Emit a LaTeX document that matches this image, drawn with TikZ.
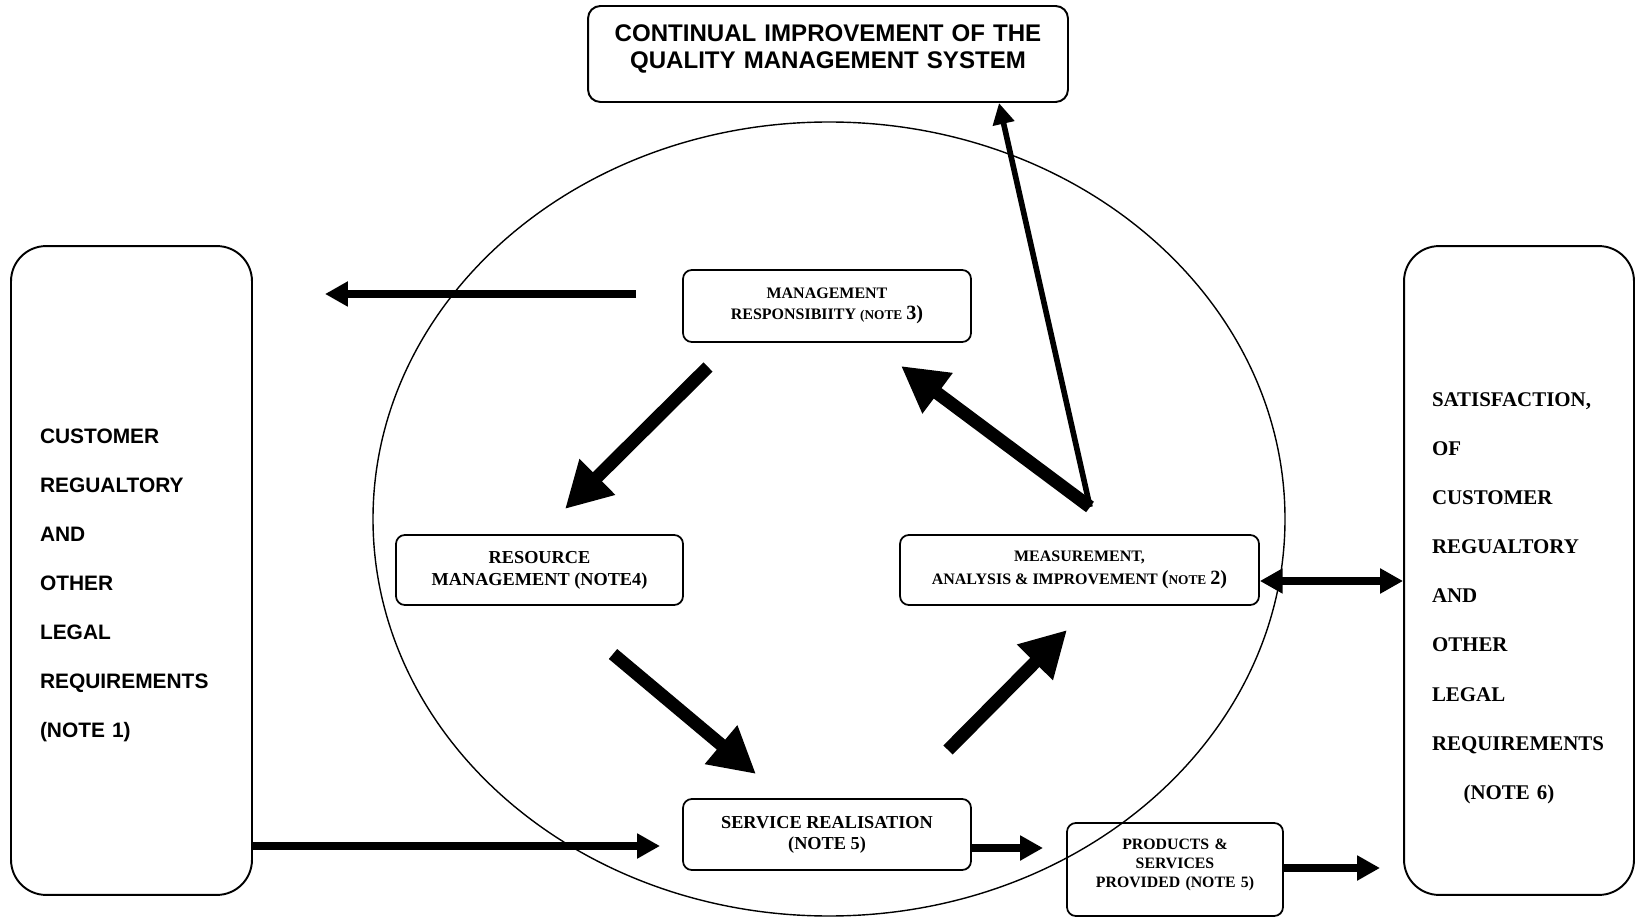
\documentclass[tikz,border=0pt]{standalone}
\usepackage{fontspec}
\setmainfont{Liberation Serif}
\newfontfamily\arialfont{Liberation Sans}
\usetikzlibrary{arrows.meta}
\tikzset{
  bigbox/.style={draw, line width=1.1pt, rounded corners=20pt, align=left, inner ysep=0pt},
  topbox/.style={draw, line width=1.1pt, rounded corners=7pt, align=center, inner sep=0pt},
  smallbox/.style={draw, line width=1pt, rounded corners=5pt, align=center, inner sep=0pt},
  bigarrow/.style={line width=7.4pt, -{Triangle[length=26pt,width=27pt]}},
  midarrow/.style={line width=4.2pt, -{Triangle[length=13pt,width=13.5pt]}},
  thinarrow/.style={line width=3.2pt, -{Triangle[length=12pt,width=12pt]}}
}
\begin{document}
\begin{tikzpicture}[x=0.02cm,y=-0.02cm]
\useasboundingbox (0,0) rectangle (1636,918);
\draw[line width=0.8pt] (829,519) ellipse [x radius=456, y radius=397];
\node[topbox, minimum width=9.6cm, minimum height=1.92cm, text width=9.2cm, text depth=24pt,
  font=\arialfont\bfseries\fontsize{13.7}{15.4}\selectfont] (cip) at (828,54)
  {CONTINUAL IMPROVEMENT OF THE\\QUALITY MANAGEMENT SYSTEM};
\node[bigbox, minimum width=4.82cm, minimum height=12.98cm, text width=3.66cm, inner xsep=0.58cm, text height=25.5pt,
  font=\arialfont\bfseries\fontsize{11.9}{27.9}\selectfont] (cust) at (131.5,570.5)
  {CUSTOMER\\REGUALTORY\\AND\\OTHER\\LEGAL\\REQUIREMENTS\\(NOTE 1)};
\node[bigbox, minimum width=4.6cm, minimum height=12.98cm, text width=3.48cm, inner xsep=0.56cm, text height=39.5pt,
  font=\bfseries\fontsize{11.9}{27.9}\selectfont] (sat) at (1519,570.5)
  {SATISFACTION,\\OF\\CUSTOMER\\REGUALTORY\\AND\\OTHER\\LEGAL\\REQUIREMENTS\\\hspace*{18pt}(NOTE 6)};
\node[smallbox, minimum width=5.76cm, minimum height=1.44cm, font=\bfseries\fontsize{9.1}{12}\selectfont] (mr) at (827,306)
  {MANAGEMENT\\RESPONSIBIITY {\fontsize{7.6}{12}\selectfont(NOTE} {\fontsize{11.5}{12}\selectfont 3)}};
\node[smallbox, minimum width=5.74cm, minimum height=1.4cm, font=\bfseries\fontsize{10.4}{12.5}\selectfont] (rm) at (539.5,570)
  {RESOURCE\\MANAGEMENT (NOTE4)};
\node[smallbox, minimum width=7.18cm, minimum height=1.4cm, font=\bfseries\fontsize{9.1}{13}\selectfont] (mai) at (1079.5,570)
  {MEASUREMENT,\\ANALYSIS \& IMPROVEMENT {\fontsize{11.5}{13}\selectfont(}{\fontsize{7.6}{13}\selectfont NOTE} {\fontsize{11.5}{13}\selectfont 2)}};
\node[smallbox, minimum width=5.76cm, minimum height=1.42cm, font=\bfseries\fontsize{10.4}{12}\selectfont] (sr) at (827,834.5)
  {SERVICE REALISATION\\(NOTE 5)};
\node[smallbox, minimum width=4.32cm, minimum height=1.86cm, text width=4cm, text depth=29pt,
  font=\bfseries\fontsize{9}{10.8}\selectfont] (ps) at (1175,869.5)
  {PRODUCTS \&\\SERVICES\\PROVIDED (NOTE 5)};
\coordinate (mrOut) at (636,294);
\coordinate (custIn) at (325,294);
\coordinate (srIn) at (660,846);
\coordinate (psIn) at (1043,848);
\coordinate (satIn) at (1380,868);
\coordinate (cipIn) at (999,103);
\coordinate (a1s) at (708,367);
\coordinate (a1e) at (565,509);
\coordinate (a2s) at (613,654);
\coordinate (a2e) at (756,774);
\coordinate (a3s) at (948,750);
\coordinate (a3e) at (1067,630);
\coordinate (a4s) at (1090,507);
\coordinate (a4e) at (901,366);
\draw[midarrow] (mrOut) -- (custIn);
\draw[bigarrow] (a1s) -- (a1e);
\draw[bigarrow] (a2s) -- (a2e);
\draw[bigarrow] (a3s) -- (a3e);
\draw[bigarrow] (a4s) -- (a4e);
\draw[thinarrow] (a4s) -- (cipIn);
\draw[midarrow] (cust.east |- srIn) -- (srIn);
\draw[midarrow] (sr.east |- psIn) -- (psIn);
\draw[midarrow] (ps.east |- satIn) -- (satIn);
\draw[midarrow, {Triangle[length=13pt,width=13.5pt]}-{Triangle[length=13pt,width=13.5pt]}] (mai.east |- 0,581) -- (sat.west |- 0,581);
\end{tikzpicture}
\end{document}
